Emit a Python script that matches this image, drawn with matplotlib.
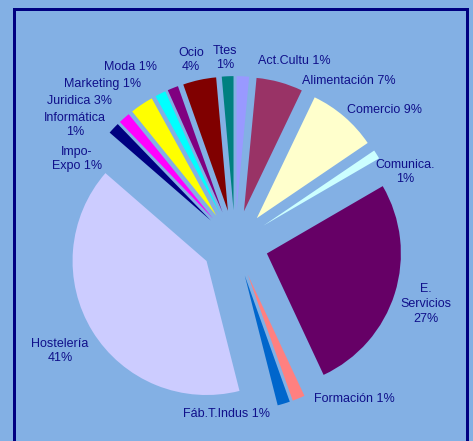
import matplotlib
matplotlib.use("Agg")
import matplotlib.pyplot as plt
from matplotlib.lines import Line2D

# ---- data ----
categories = ["Act.Cultu", "Alimentación", "Comercio", "Comunica.", "E.\nServicios",
              "Formación", "Fáb.T.Indus", "Hostelería", "Impo-\nExpo", "Informática\n",
              "Juridica", "Marketing", "Moda", "Ocio\n", "Ttes\n"]
# slice sizes (percent)
values = [1.5, 5.6, 8.4, 1.1, 26.4, 1.5, 1.5, 40.3, 1.4, 1.4, 2.8, 1.3, 1.3, 4.0, 1.4]
# percentages as printed in the data labels
pct_labels = ["1%", "7%", "9%", "1%", "27%", "1%", "1%", "41%", "1%", "1%", "3%",
              "1%", "1%", "4%", "1%"]
label_sep = [" ", " ", " ", "\n", "\n", " ", " ", "\n", " ", "", " ", " ", " ", "", ""]
colors = ["#9999FF", "#993366", "#FFFFCC", "#CCFFFF", "#660066", "#FF8080", "#0066CC",
          "#CCCCFF", "#000080", "#FF00FF", "#FFFF00", "#00FFFF", "#800080", "#800000",
          "#008080"]

# ---- layout (pixel coordinates, y measured from top) ----
W, H = 473, 441
BG = "#83B0E4"
NAVY = "#000080"
TEXT = "#10108A"
pie_center = (235, 243.5)
pie_radius = 134
explode_px = 33.4
label_pos = [(294, 61), (349, 81), (384, 110), (405, 172), (426, 304),
             (354, 399), (226, 414), (60, 351), (77, 159), (75, 125),
             (79, 101), (103, 84), (130, 67), (191, 60), (225, 58)]

fig = plt.figure(figsize=(W / 100, H / 100), dpi=100, facecolor=BG)
ax = fig.add_axes([0, 0, 1, 1])
ax.set_facecolor(BG)

ax.pie(values, colors=colors, startangle=90, counterclock=False,
       center=(pie_center[0], H - pie_center[1]), radius=pie_radius,
       explode=[explode_px] * len(values), frame=True,
       wedgeprops=dict(linewidth=0))
ax.set_xlim(0, W)
ax.set_ylim(0, H)
ax.set_aspect("equal")
ax.axis("off")

for cat, pl, sep, (lx, ly) in zip(categories, pct_labels, label_sep, label_pos):
    txt = f"{cat}{sep}{pl}"
    ax.text(lx, H - ly, txt, ha="center", va="center", color=TEXT,
            fontsize=9, family="Liberation Sans", linespacing=1.3)

# border frame (open at the bottom, as in the reference)
lw = 3 * 72 / 100
ax.add_line(Line2D([13.5, 13.5, 466.5, 466.5], [-5, H - 8.5, H - 8.5, -5],
                   color=NAVY, linewidth=lw, solid_joinstyle="miter"))

fig.savefig("out.png", dpi=100, facecolor=BG)
